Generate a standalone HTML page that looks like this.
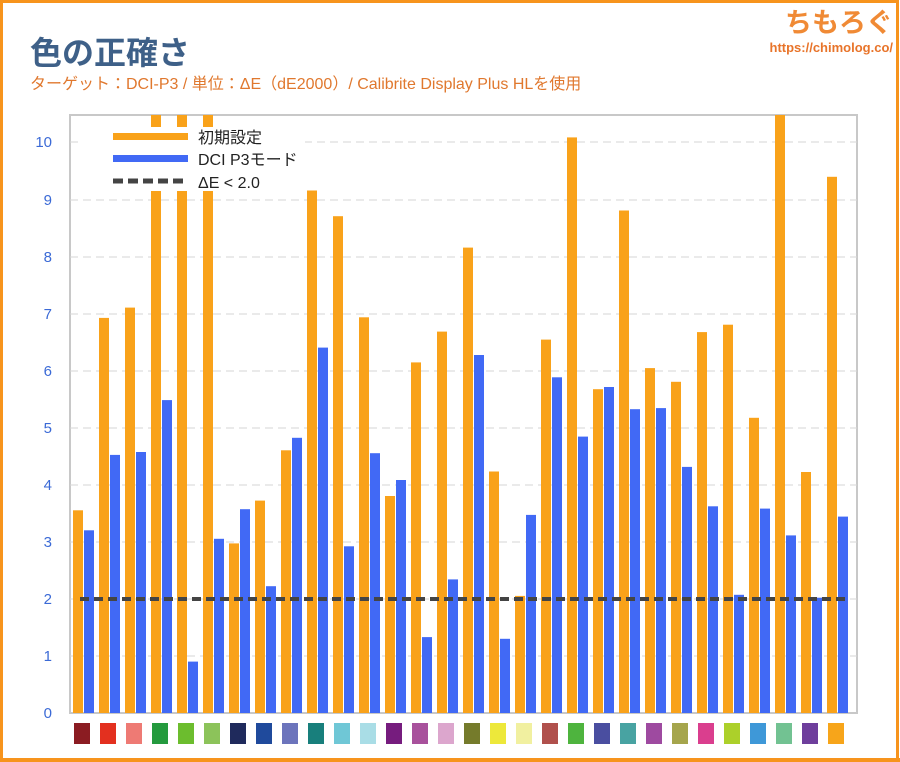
<!DOCTYPE html>
<html><head><meta charset="utf-8"><style>
html,body{margin:0;padding:0;background:#fff;overflow:hidden;width:900px;height:762px;}
svg{display:block;}
</style></head><body>
<svg width="900" height="762" xmlns="http://www.w3.org/2000/svg" font-family="'Liberation Sans','Noto Sans CJK JP',sans-serif">
<rect x="0" y="0" width="900" height="762" fill="#fff"/>
<rect x="1.5" y="1.5" width="896" height="758" fill="none" stroke="#f7941d" stroke-width="3"/>
<rect x="0" y="758" width="900" height="4" fill="#f7941d"/>
<text x="30" y="64" font-size="32" font-weight="bold" fill="#3e6088">色の正確さ</text>
<text x="30" y="89" font-size="16" fill="#e0782e">ターゲット：DCI-P3 / 単位：ΔE（dE2000）/ Calibrite Display Plus HLを使用</text>
<text x="893" y="32" font-size="27" font-weight="bold" fill="#f08a35" text-anchor="end">ちもろぐ</text>
<text x="893" y="52" font-size="13" font-weight="bold" fill="#e8742a" text-anchor="end">https://chimolog.co/</text>
<rect x="70" y="115" width="787" height="598" fill="none" stroke="#c8c8c8" stroke-width="2"/>
<g stroke="#d6d6d6" stroke-width="1" stroke-dasharray="8,5">
<line x1="70" x2="857" y1="656" y2="656"/><line x1="70" x2="857" y1="599" y2="599"/>
<line x1="70" x2="857" y1="542" y2="542"/><line x1="70" x2="857" y1="485" y2="485"/>
<line x1="70" x2="857" y1="428" y2="428"/><line x1="70" x2="857" y1="371" y2="371"/>
<line x1="70" x2="857" y1="314" y2="314"/><line x1="70" x2="857" y1="257" y2="257"/>
<line x1="70" x2="857" y1="200" y2="200"/><line x1="70" x2="857" y1="142" y2="142"/>
</g>
<g font-size="15" fill="#3b6ad6" text-anchor="end">
<text x="52" y="718">0</text><text x="52" y="661">1</text><text x="52" y="604">2</text>
<text x="52" y="547">3</text><text x="52" y="490">4</text><text x="52" y="433">5</text>
<text x="52" y="376">6</text><text x="52" y="319">7</text><text x="52" y="262">8</text>
<text x="52" y="205">9</text><text x="52" y="147">10</text>
</g>
<g fill="#f9a21a">
<rect x="73" y="510.3" width="10" height="202.7"/>
<rect x="99" y="317.9" width="10" height="395.1"/>
<rect x="125" y="307.6" width="10" height="405.4"/>
<rect x="151" y="115" width="10" height="598"/>
<rect x="177" y="115" width="10" height="598"/>
<rect x="203" y="115" width="10" height="598"/>
<rect x="229" y="543.4" width="10" height="169.6"/>
<rect x="255" y="500.6" width="10" height="212.4"/>
<rect x="281" y="450.3" width="10" height="262.7"/>
<rect x="307" y="190.5" width="10" height="522.5"/>
<rect x="333" y="216.2" width="10" height="496.8"/>
<rect x="359" y="317.3" width="10" height="395.7"/>
<rect x="385" y="496" width="10" height="217"/>
<rect x="411" y="362.4" width="10" height="350.6"/>
<rect x="437" y="331.6" width="10" height="381.4"/>
<rect x="463" y="247.6" width="10" height="465.4"/>
<rect x="489" y="471.5" width="10" height="241.5"/>
<rect x="515" y="595.9" width="10" height="117.1"/>
<rect x="541" y="339.6" width="10" height="373.4"/>
<rect x="567" y="137.4" width="10" height="575.6"/>
<rect x="593" y="389.2" width="10" height="323.8"/>
<rect x="619" y="210.5" width="10" height="502.5"/>
<rect x="645" y="368.1" width="10" height="344.9"/>
<rect x="671" y="381.8" width="10" height="331.2"/>
<rect x="697" y="332.1" width="10" height="380.9"/>
<rect x="723" y="324.7" width="10" height="388.3"/>
<rect x="749" y="417.8" width="10" height="295.2"/>
<rect x="775" y="115" width="10" height="598"/>
<rect x="801" y="472" width="10" height="241"/>
<rect x="827" y="176.8" width="10" height="536.2"/>
</g>
<g fill="#4169f5">
<rect x="84" y="530.3" width="10" height="182.7"/>
<rect x="110" y="454.9" width="10" height="258.1"/>
<rect x="136" y="452" width="10" height="261"/>
<rect x="162" y="400.1" width="10" height="312.9"/>
<rect x="188" y="661.6" width="10" height="51.4"/>
<rect x="214" y="538.8" width="10" height="174.2"/>
<rect x="240" y="509.2" width="10" height="203.8"/>
<rect x="266" y="586.2" width="10" height="126.8"/>
<rect x="292" y="437.8" width="10" height="275.2"/>
<rect x="318" y="347.6" width="10" height="365.4"/>
<rect x="344" y="546.3" width="10" height="166.7"/>
<rect x="370" y="453.2" width="10" height="259.8"/>
<rect x="396" y="480" width="10" height="233"/>
<rect x="422" y="637.1" width="10" height="75.9"/>
<rect x="448" y="579.4" width="10" height="133.6"/>
<rect x="474" y="355" width="10" height="358"/>
<rect x="500" y="638.8" width="10" height="74.2"/>
<rect x="526" y="514.9" width="10" height="198.1"/>
<rect x="552" y="377.3" width="10" height="335.7"/>
<rect x="578" y="436.6" width="10" height="276.4"/>
<rect x="604" y="387" width="10" height="326"/>
<rect x="630" y="409.2" width="10" height="303.8"/>
<rect x="656" y="408.1" width="10" height="304.9"/>
<rect x="682" y="466.9" width="10" height="246.1"/>
<rect x="708" y="506.3" width="10" height="206.7"/>
<rect x="734" y="594.8" width="10" height="118.2"/>
<rect x="760" y="508.6" width="10" height="204.4"/>
<rect x="786" y="535.4" width="10" height="177.6"/>
<rect x="812" y="597.7" width="10" height="115.3"/>
<rect x="838" y="516.6" width="10" height="196.4"/>
</g>
<line x1="80" x2="846" y1="599" y2="599" stroke="#444" stroke-width="4" stroke-dasharray="9,5"/>
<rect x="80" y="127" width="225" height="64" fill="#fff"/>
<rect x="113" y="133" width="75" height="7" fill="#f9a21a"/>
<rect x="113" y="155" width="75" height="7" fill="#4169f5"/>
<line x1="113" x2="188" y1="181" y2="181" stroke="#444" stroke-width="5" stroke-dasharray="10,5"/>
<g font-size="16" fill="#222">
<text x="198" y="143">初期設定</text>
<text x="198" y="165">DCI P3モード</text>
<text x="198" y="188">ΔE &lt; 2.0</text>
</g>
<g>
<rect x="74" y="723" width="16" height="21" fill="#8b1c22"/>
<rect x="100" y="723" width="16" height="21" fill="#e3301f"/>
<rect x="126" y="723" width="16" height="21" fill="#ee7a74"/>
<rect x="152" y="723" width="16" height="21" fill="#249a3e"/>
<rect x="178" y="723" width="16" height="21" fill="#6cbd2e"/>
<rect x="204" y="723" width="16" height="21" fill="#8cc35a"/>
<rect x="230" y="723" width="16" height="21" fill="#1f2a5c"/>
<rect x="256" y="723" width="16" height="21" fill="#1f4a9c"/>
<rect x="282" y="723" width="16" height="21" fill="#6c74bc"/>
<rect x="308" y="723" width="16" height="21" fill="#187f7c"/>
<rect x="334" y="723" width="16" height="21" fill="#6fc7d6"/>
<rect x="360" y="723" width="16" height="21" fill="#a9dde6"/>
<rect x="386" y="723" width="16" height="21" fill="#761c7e"/>
<rect x="412" y="723" width="16" height="21" fill="#a8519c"/>
<rect x="438" y="723" width="16" height="21" fill="#dca6cd"/>
<rect x="464" y="723" width="16" height="21" fill="#757b2b"/>
<rect x="490" y="723" width="16" height="21" fill="#ede83a"/>
<rect x="516" y="723" width="16" height="21" fill="#f1f0a0"/>
<rect x="542" y="723" width="16" height="21" fill="#b0504c"/>
<rect x="568" y="723" width="16" height="21" fill="#4eb43e"/>
<rect x="594" y="723" width="16" height="21" fill="#4a4ea0"/>
<rect x="620" y="723" width="16" height="21" fill="#48a3a2"/>
<rect x="646" y="723" width="16" height="21" fill="#9e4aa0"/>
<rect x="672" y="723" width="16" height="21" fill="#a5a54c"/>
<rect x="698" y="723" width="16" height="21" fill="#da3e8e"/>
<rect x="724" y="723" width="16" height="21" fill="#acd02a"/>
<rect x="750" y="723" width="16" height="21" fill="#3e98d8"/>
<rect x="776" y="723" width="16" height="21" fill="#72c292"/>
<rect x="802" y="723" width="16" height="21" fill="#6e3e9c"/>
<rect x="828" y="723" width="16" height="21" fill="#f7a51a"/>
</g>
</svg>
</body></html>
